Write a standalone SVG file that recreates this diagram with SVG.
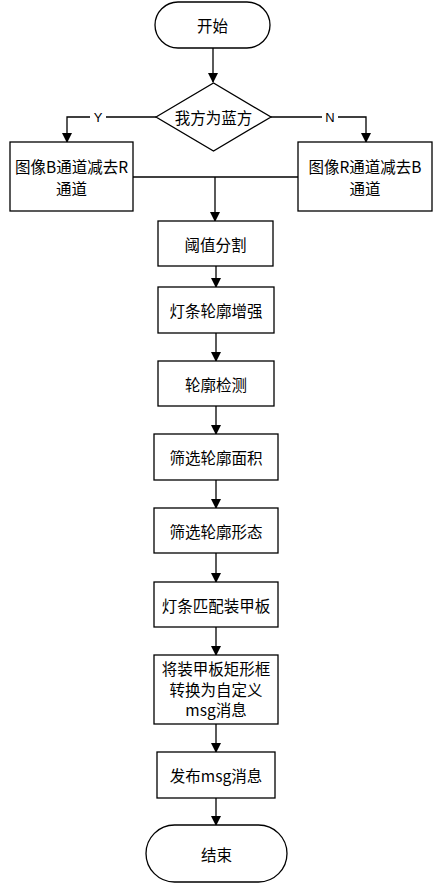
<svg xmlns="http://www.w3.org/2000/svg" width="433" height="884" viewBox="0 0 433 884">
<defs>
<marker id="ah" markerWidth="10" markerHeight="10" refX="9" refY="5" orient="auto" markerUnits="userSpaceOnUse">
<path d="M0,0 L10,5 L0,10 Z" fill="#000"/>
</marker>
<style>
.n{fill:#fff;stroke:#000;stroke-width:1.3}
.t{font-family:"Noto Sans CJK SC","Liberation Sans",sans-serif;font-size:15.5px;fill:#000;text-anchor:middle;dominant-baseline:central}
.l{font-family:"Liberation Sans",sans-serif;font-size:13px;fill:#000;text-anchor:middle;dominant-baseline:central}
.c{fill:none;stroke:#000;stroke-width:1.3}
.ca{fill:none;stroke:#000;stroke-width:1.3;marker-end:url(#ah)}
</style>
</defs>
<rect width="433" height="884" fill="#fff"/>
<g id="connectors">
<path class="ca" d="M213,48 V82"/>
<path class="ca" d="M156,117 H67 V142"/>
<path class="ca" d="M271,117 H366 V142"/>
<path class="c" d="M133,177 H298"/>
<path class="ca" d="M215,177 V221"/>
<path class="ca" d="M216,266 V287"/>
<path class="ca" d="M216,333 V361"/>
<path class="ca" d="M216,406 V434"/>
<path class="ca" d="M216,480 V508"/>
<path class="ca" d="M216,553 V582"/>
<path class="ca" d="M216,627 V655"/>
<path class="ca" d="M216,724 V752"/>
<path class="ca" d="M216,798 V825"/>
<rect x="90" y="109" width="16" height="16" fill="#fff"/>
<text class="l" x="98" y="117">Y</text>
<rect x="322" y="109" width="16" height="16" fill="#fff"/>
<text class="l" x="330" y="117">N</text>
</g>
<g id="start">
<rect class="n" x="155" y="2" width="115" height="46" rx="23"/>
<text class="t" x="212.5" y="25">开始</text>
</g>
<g id="decision">
<path class="n" d="M156,117 L213.5,83 L271,117 L213.5,151 Z"/>
<text class="t" x="213.5" y="117">我方为蓝方</text>
</g>
<g id="left">
<rect class="n" x="10" y="142" width="123" height="69"/>
<text class="t" x="71.5" y="166">图像B通道减去R</text>
<text class="t" x="71.5" y="188">通道</text>
</g>
<g id="right">
<rect class="n" x="298" y="142" width="134" height="69"/>
<text class="t" x="365" y="166">图像R通道减去B</text>
<text class="t" x="365" y="188">通道</text>
</g>
<g id="threshold">
<rect class="n" x="158" y="221" width="115" height="45"/>
<text class="t" x="215.5" y="243.5">阈值分割</text>
</g>
<g id="enhance">
<rect class="n" x="158" y="287" width="116" height="46"/>
<text class="t" x="216" y="310">灯条轮廓增强</text>
</g>
<g id="detect">
<rect class="n" x="158" y="361" width="116" height="45"/>
<text class="t" x="216" y="383.5">轮廓检测</text>
</g>
<g id="area">
<rect class="n" x="154" y="434" width="124" height="46"/>
<text class="t" x="216" y="457">筛选轮廓面积</text>
</g>
<g id="shape">
<rect class="n" x="154" y="508" width="124" height="45"/>
<text class="t" x="216" y="530.5">筛选轮廓形态</text>
</g>
<g id="match">
<rect class="n" x="154" y="582" width="124" height="45"/>
<text class="t" x="216" y="604.5">灯条匹配装甲板</text>
</g>
<g id="convert">
<rect class="n" x="154" y="655" width="124" height="69"/>
<text class="t" x="216" y="668">将装甲板矩形框</text>
<text class="t" x="216" y="689">转换为自定义</text>
<text class="t" x="216" y="709">msg消息</text>
</g>
<g id="publish">
<rect class="n" x="157" y="752" width="118" height="46"/>
<text class="t" x="216" y="775">发布msg消息</text>
</g>
<g id="end">
<rect class="n" x="146" y="825" width="141" height="57" rx="28.5"/>
<text class="t" x="216.5" y="853.5">结束</text>
</g>
</svg>
